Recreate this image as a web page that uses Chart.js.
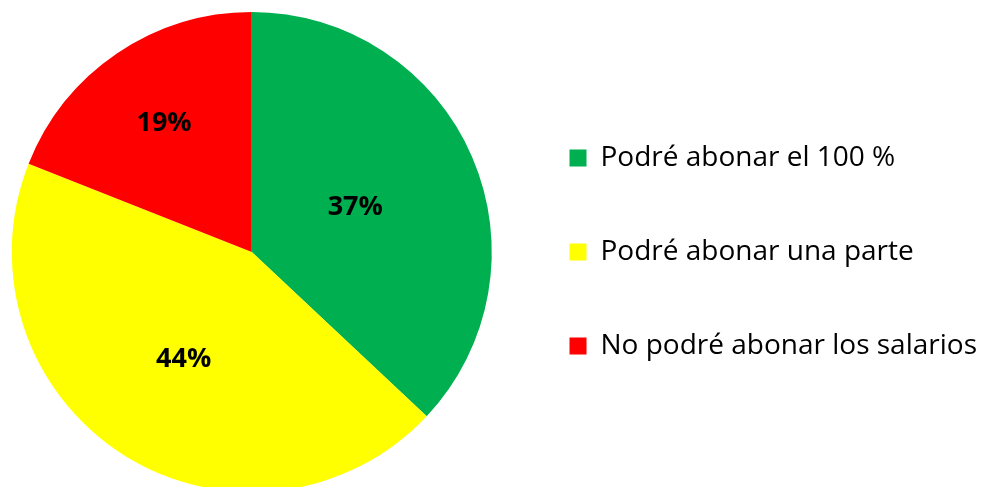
<!DOCTYPE html>
<html>
<head>
<meta charset="utf-8">
<script src="https://cdn.jsdelivr.net/npm/chart.js@4.4.0/dist/chart.umd.min.js"></script>
<style>
  html, body { margin: 0; padding: 0; background: #fff; overflow: hidden; }
  #wrap { width: 987px; height: 504px; }
</style>
</head>
<body>
<div id="wrap"><canvas id="myChart" width="987" height="504"></canvas></div>
<script>
const categories = ['Podré abonar el 100 %', 'Podré abonar una parte', 'No podré abonar los salarios'];
const shares = [37, 44, 19];
const sliceColors = ['#00B050', '#FFFF00', '#FF0000'];

// percentage labels drawn inside each slice
const sliceLabels = {
    id: 'sliceLabels',
    afterDatasetsDraw(chart, args, opts) {
        const ctx = chart.ctx;
        const meta = chart.getDatasetMeta(0);
        ctx.save();
        ctx.font = 'bold 27px "Open Sans", sans-serif';
        ctx.fillStyle = '#000';
        ctx.textAlign = 'center';
        ctx.textBaseline = 'middle';
        meta.data.forEach((arc, i) => {
            const mid = (arc.startAngle + arc.endAngle) / 2;
            const r = arc.outerRadius * opts.radius[i];
            ctx.fillText(shares[i] + '%', arc.x + Math.cos(mid) * r, arc.y + Math.sin(mid) * r);
        });
        ctx.restore();
    }
};

const myChartRef = document.getElementById('myChart').getContext('2d');
const myChart = new Chart(myChartRef, {
    type: 'pie',
    data: {
        labels: categories,
        datasets: [
            {
                data: shares,
                backgroundColor: sliceColors,
                borderWidth: 0
            }
        ]
    },
    options: {
        responsive: false,
        animation: false,
        layout: {
            padding: { top: 12, bottom: 12, left: -3, right: 0 }
        },
        plugins: {
            tooltip: { enabled: false },
            legend: {
                display: true,
                position: 'right',
                labels: {
                    boxWidth: 17,
                    boxHeight: 17,
                    padding: 66,
                    color: '#000',
                    font: { family: '"Open Sans", sans-serif', size: 28 }
                }
            },
            sliceLabels: {
                radius: [0.47, 0.53, 0.65]
            }
        }
    },
    plugins: [sliceLabels]
});
</script>
</body>
</html>
